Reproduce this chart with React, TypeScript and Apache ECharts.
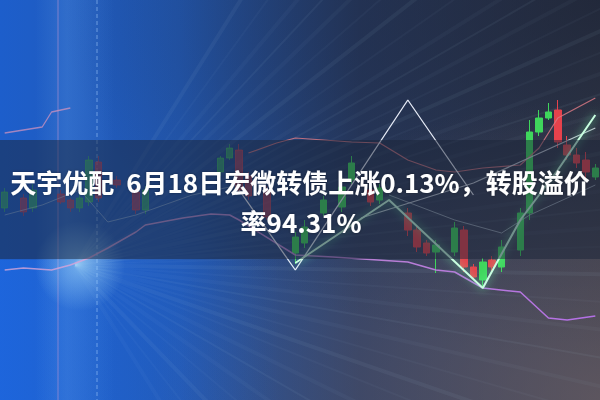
import React, { useEffect, useRef } from "react";
import * as echarts from "echarts";

// ---- data ----
const SLOTS = 64;
const categories: string[] = Array.from({ length: SLOTS }, (_, i) => `K${i + 1}`);

// candlesticks (slot index, open, close, low, high)
const candleIndex = [0, 2, 3, 6, 7, 8, 9, 10, 12, 14, 15, 23, 24, 25, 26, 28, 31, 32, 34, 36, 37, 39, 40, 43, 44, 45, 46, 48, 49, 50, 51, 52, 53, 55, 56, 57, 58, 59, 60, 61, 62, 63];
const openPrices = [48, 50.5, 48, 51.5, 50, 48, 49.5, 59.5, 55, 52, 47.5, 57, 60.5, 62.5, 56, 52.5, 36.75, 39.25, 46.75, 48.25, 55, 52.5, 50, 46.75, 42.5, 39.25, 37, 37, 42.5, 33.25, 30, 35, 33.25, 37.5, 46.75, 67, 70.5, 72.5, 63.75, 61.25, 60, 55.75];
const closePrices = [52, 47, 52.5, 49.5, 48, 50.5, 60, 50.5, 53.75, 47.5, 52.5, 60.5, 63, 52.5, 51, 45.75, 40.75, 43.25, 50, 53.25, 59.25, 49.5, 53, 42.5, 38.25, 36.75, 38.75, 43, 33.25, 30.75, 34.5, 33.25, 38.25, 46.75, 67, 70.5, 72, 64.5, 61.25, 59.25, 57, 58];
const lowPrices = [47, 46, 47, 49, 47, 47, 48.5, 49.5, 53, 46.5, 46.5, 56, 60, 52, 50, 45, 34, 38, 46, 47, 54, 48.5, 49, 41, 37, 36, 31.75, 36, 32, 30, 28.5, 32, 32, 36, 45, 66, 70, 63, 60, 58, 55, 55];
const highPrices = [53, 51.5, 54, 52.5, 50.5, 51.5, 61, 61, 56, 53, 53.5, 61, 64, 64, 57, 53.5, 42, 45, 51, 55, 61, 53.5, 54, 48, 43.5, 40, 40, 44.5, 43.5, 34, 35.5, 36, 40, 48, 70, 72.5, 74.25, 75, 66, 63, 62, 59];

// overlaid lines (slot index -> price)
const zigzagIdx = [25, 31, 43, 48, 50];
const zigzagVal = [52.5, 32.5, 75, 58, 51.25];
const glowIdx = [31, 41, 51, 55, 59, 63];
const glowVal = [34.25, 50, 28, 45, 57.5, 71.25];
const pinkLeftIdx = [0, 2, 4, 5, 7];
const pinkLeftVal = [66.75, 67.5, 68.25, 72, 73];
const pinkRightIdx = [26, 29, 31, 37, 40, 43, 46, 48, 51, 55, 57, 59, 63];
const pinkRightVal = [61.75, 64.25, 65.5, 64.5, 64.25, 60, 57.5, 57, 58, 58.75, 63, 70.5, 75.5];
const purpleIdx = [0, 2, 5, 7, 9, 11, 14, 15, 19, 22, 24, 25, 31, 35, 43, 46, 48, 51, 55, 58, 60, 63];
const purpleVal = [32.5, 33, 32.5, 33.75, 35.5, 38, 42, 43.75, 45.5, 46.5, 46.25, 45, 36.25, 35.75, 34.5, 32.5, 32, 28, 27, 20.5, 20, 21];
const greyAIdx = [38, 50, 63];
const greyAVal = [45.5, 54.25, 68];
const greyBIdx = [41, 48, 53, 56, 60, 63];
const greyBVal = [51.25, 45, 41.75, 46.25, 50.5, 53.75];
const paleIdx = [0, 4, 8, 11, 14, 20, 25];
const paleVal = [46.25, 48.75, 52.5, 44.5, 46.25, 51.25, 53.75];

const titleLine1 = "天宇优配  6月18日宏微转债上涨0.13%，转股溢价";
const titleLine2 = "率94.31%";

// ---- helpers ----
function sparse(idx: number[], val: number[]): (number | null)[] {
  const arr: (number | null)[] = new Array(SLOTS).fill(null);
  idx.forEach((k, j) => (arr[k] = val[j]));
  return arr;
}

function candleData() {
  const arr: any[] = new Array(SLOTS).fill("-");
  candleIndex.forEach((k, j) => {
    arr[k] = {
      value: [openPrices[j], closePrices[j], lowPrices[j], highPrices[j]],
      itemStyle: { opacity: k < 30 ? 0.55 : 1 },
    };
  });
  return arr;
}

const rayAngles = [-58, -54, -50, -47, -44, -41, -38, -35, -32, -30, -28, -26, -24, -22, -20, -18, -16, -14, -12, -10, -8, -6, -4, -2, 1, 4, 7, 10, 13, 16, 19, 22, 26, 30, 35, 40, 46, 52, 58];

function lineSeries(name: string, data: (number | null)[], color: any, width: number, extra: any = {}) {
  return {
    name,
    type: "line",
    data,
    connectNulls: true,
    symbol: "none",
    z: 3,
    lineStyle: { color, width, ...extra },
  };
}

export default function App() {
  const ref = useRef<HTMLDivElement>(null);

  useEffect(() => {
    if (!ref.current) return;
    const chart = echarts.init(ref.current, undefined, { renderer: "svg" });

    const cx = 75;
    const cy = 265;
    const rays = rayAngles.map((a, i) => {
      const r = (a * Math.PI) / 180;
      return {
        type: "line",
        z: 1,
        silent: true,
        shape: { x1: cx, y1: cy, x2: cx + Math.cos(r) * 800, y2: cy + Math.sin(r) * 800 },
        style: {
          stroke: `rgba(190,215,245,${i % 3 === 0 ? 0.06 : 0.035})`,
          lineWidth: i % 2 === 0 ? 4 : 2,
        },
      };
    });

    const option: any = {
      animation: false,
      grid: { left: 0, right: 0, top: 0, bottom: 0 },
      xAxis: { type: "category", data: categories, boundaryGap: true, show: false },
      yAxis: { type: "value", min: 0, max: 100, show: false },
      graphic: [
        {
          type: "rect",
          z: 0,
          silent: true,
          shape: { x: 0, y: 0, width: 600, height: 400 },
          style: {
            fill: {
              type: "linear", x: 0, y: 0, x2: 1, y2: 0,
              colorStops: [
                { offset: 0, color: "#1d5ecb" },
                { offset: 0.3, color: "#2358b0" },
                { offset: 0.6, color: "#2b3e66" },
                { offset: 1, color: "#3a3f4f" },
              ],
            },
          },
        },
        {
          type: "rect",
          z: 0,
          silent: true,
          shape: { x: 0, y: 0, width: 600, height: 400 },
          style: {
            fill: {
              type: "radial", x: 1, y: 0, r: 0.9,
              colorStops: [
                { offset: 0, color: "rgba(18,26,45,0.6)" },
                { offset: 1, color: "rgba(18,26,45,0)" },
              ],
            },
          },
        },
        {
          type: "rect",
          z: 0,
          silent: true,
          shape: { x: 0, y: 0, width: 600, height: 400 },
          style: {
            fill: {
              type: "radial", x: 1, y: 1, r: 0.75,
              colorStops: [
                { offset: 0, color: "rgba(115,100,105,0.6)" },
                { offset: 1, color: "rgba(115,100,105,0)" },
              ],
            },
          },
        },
        {
          type: "rect",
          z: 0,
          silent: true,
          shape: { x: 0, y: 260, width: 280, height: 140 },
          style: {
            fill: {
              type: "linear", x: 0, y: 0, x2: 1, y2: 0,
              colorStops: [
                { offset: 0, color: "rgba(30,110,240,0.45)" },
                { offset: 1, color: "rgba(30,110,240,0)" },
              ],
            },
          },
        },
        ...rays,
        {
          type: "rect",
          z: 1,
          silent: true,
          shape: { x: 35, y: 0, width: 80, height: 400 },
          style: {
            fill: {
              type: "linear", x: 0, y: 0, x2: 1, y2: 0,
              colorStops: [
                { offset: 0, color: "rgba(140,200,255,0)" },
                { offset: 0.4, color: "rgba(140,200,255,0.16)" },
                { offset: 1, color: "rgba(140,200,255,0)" },
              ],
            },
          },
        },
        {
          type: "line",
          z: 1,
          silent: true,
          shape: { x1: 58, y1: 0, x2: 58, y2: 400 },
          style: { stroke: "rgba(230,160,210,0.22)", lineWidth: 2 },
        },
        {
          type: "line",
          z: 1,
          silent: true,
          shape: { x1: 97, y1: 0, x2: 97, y2: 400 },
          style: { stroke: "rgba(170,210,255,0.55)", lineWidth: 1, lineDash: [4, 3] },
        },
        {
          type: "circle",
          z: 1,
          silent: true,
          shape: { cx: 80, cy: 266, r: 45 },
          style: {
            fill: {
              type: "radial", x: 0.5, y: 0.5, r: 0.5,
              colorStops: [
                { offset: 0, color: "rgba(170,225,255,0.55)" },
                { offset: 1, color: "rgba(170,225,255,0)" },
              ],
            },
          },
        },
        {
          type: "rect",
          z: 8,
          silent: true,
          shape: { x: 0, y: 140, width: 600, height: 119 },
          style: { fill: "rgba(26,36,56,0.5)" },
        },
        {
          type: "text",
          z: 10,
          x: 300,
          y: 181,
          style: {
            text: titleLine1,
            fill: "#ffffff",
            font: 'bold 26px "Noto Sans CJK SC"',
            textAlign: "center",
            textVerticalAlign: "middle",
            textShadowColor: "rgba(0,0,0,0.35)",
            textShadowBlur: 3,
          },
        },
        {
          type: "text",
          z: 10,
          x: 301,
          y: 221,
          style: {
            text: titleLine2,
            fill: "#ffffff",
            font: 'bold 26px "Noto Sans CJK SC"',
            textAlign: "center",
            textVerticalAlign: "middle",
            textShadowColor: "rgba(0,0,0,0.35)",
            textShadowBlur: 3,
          },
        },
      ],
      series: [
        {
          type: "candlestick",
          data: candleData(),
          barWidth: 7,
          z: 2,
          itemStyle: {
            color: "#3fd65c",
            color0: "#e6424c",
            borderColor: "#3fd65c",
            borderColor0: "#e6424c",
            borderWidth: 1,
          },
        },
        lineSeries("purple", sparse(purpleIdx, purpleVal), {
          type: "linear", x: 0, y: 0, x2: 1, y2: 0,
          colorStops: [
            { offset: 0, color: "rgba(225,170,215,0.75)" },
            { offset: 1, color: "#b36fe6" },
          ],
        }, 1.5),
        lineSeries("pinkLeft", sparse(pinkLeftIdx, pinkLeftVal), "rgba(220,150,190,0.7)", 1.3),
        lineSeries("pinkRight", sparse(pinkRightIdx, pinkRightVal), "rgba(215,120,130,0.85)", 1.2),
        lineSeries("pale", sparse(paleIdx, paleVal), "rgba(200,225,240,0.45)", 1),
        lineSeries("greyA", sparse(greyAIdx, greyAVal), "rgba(225,232,240,0.8)", 1.2),
        lineSeries("greyB", sparse(greyBIdx, greyBVal), "rgba(200,215,225,0.6)", 1),
        lineSeries("zigzag", sparse(zigzagIdx, zigzagVal), "rgba(240,244,255,0.95)", 1.3),
        lineSeries("glow", sparse(glowIdx, glowVal), "#c8ffe0", 2, {
          shadowBlur: 8,
          shadowColor: "rgba(110,255,170,0.9)",
        }),
      ],
    };

    chart.setOption(option);
    return () => chart.dispose();
  }, []);

  return <div ref={ref} style={{ width: 600, height: 400, position: "absolute", left: 0, top: 0 }} />;
}
